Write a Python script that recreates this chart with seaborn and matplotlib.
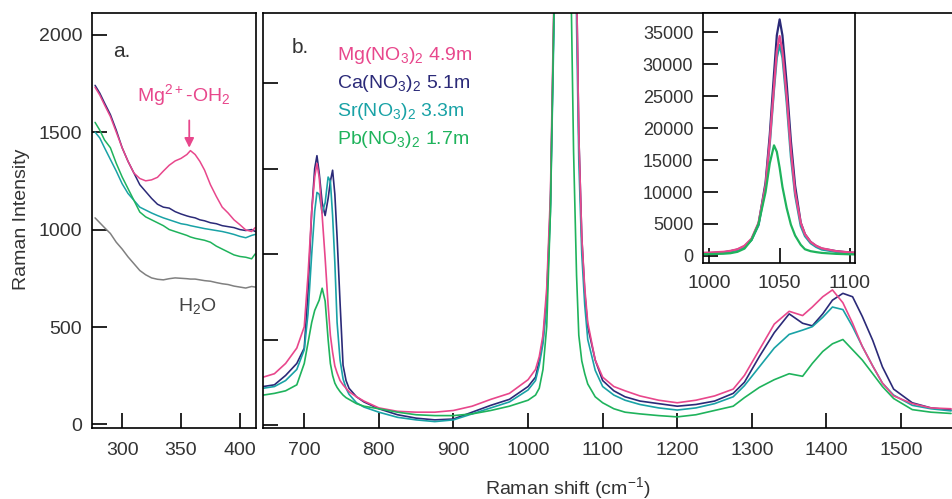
import matplotlib
matplotlib.use("Agg")
import matplotlib.pyplot as plt
import numpy as np
import pandas as pd
import seaborn as sns

# ---------------- data ----------------
# panel a: low-frequency region (Raman shift, cm-1)
shift_a = [277, 281, 285, 290, 295, 300, 305, 310, 315, 320, 325, 330, 335, 340, 345,
           350, 355, 358, 362, 366, 370, 375, 380, 385, 390, 395, 400, 405, 410, 413]
mg_a = [1730, 1690, 1640, 1580, 1500, 1420, 1350, 1290, 1262, 1250, 1255, 1268, 1300, 1330, 1352,
        1365, 1385, 1405, 1385, 1350, 1305, 1230, 1170, 1115, 1085, 1050, 1025, 998, 990, 1010]
ca_a = [1740, 1700, 1650, 1590, 1510, 1420, 1350, 1290, 1230, 1195, 1160, 1130, 1115, 1110, 1092,
        1080, 1070, 1065, 1060, 1050, 1045, 1035, 1030, 1020, 1015, 1010, 1000, 995, 1000, 990]
sr_a = [1500, 1470, 1420, 1360, 1300, 1235, 1185, 1150, 1115, 1100, 1085, 1072, 1060, 1050, 1040,
        1030, 1025, 1020, 1015, 1010, 1005, 1000, 995, 990, 983, 975, 965, 958, 970, 975]
pb_a = [1550, 1510, 1460, 1420, 1340, 1270, 1210, 1150, 1090, 1065, 1050, 1035, 1020, 1000, 990,
        980, 970, 962, 955, 950, 945, 935, 915, 900, 885, 870, 862, 858, 850, 875]
h2o_a = [1060, 1035, 1010, 980, 935, 900, 860, 825, 790, 768, 752, 745, 742, 748, 752,
         750, 748, 746, 746, 742, 738, 735, 728, 722, 718, 710, 705, 700, 708, 705]

# panel b: full spectrum
shift_b = [645, 660, 675, 690, 700, 705, 710, 714, 717, 720, 724, 728, 732, 735, 738, 741, 744,
           748, 752, 756, 760, 770, 780, 800, 825, 850, 875, 900, 925, 950, 975, 1000, 1010,
           1015, 1020, 1025, 1030, 1035, 1040, 1043, 1046, 1048, 1050, 1052, 1055, 1058, 1061,
           1065, 1068, 1072, 1076, 1080, 1090, 1100, 1115, 1130, 1150, 1175, 1200, 1225, 1250,
           1275, 1290, 1310, 1330, 1350, 1368, 1381, 1395, 1408, 1422, 1435, 1448, 1462, 1475,
           1490, 1515, 1540, 1567]
mg_b = [560, 600, 720, 900, 1150, 1750, 2500, 2900, 3060, 2900, 2450, 1950, 1400, 1050, 850, 690, 610,
        520, 470, 430, 390, 330, 280, 200, 160, 150, 150, 170, 220, 300, 370, 530, 650,
        800, 1050, 1600, 2700, 5200, 11000, 18000, 26500, 32000, 34400, 32000, 25000, 16500, 10000,
        5200, 3400, 2200, 1600, 1200, 760, 560, 450, 400, 340, 290, 260, 290, 340,
        420, 580, 880, 1180, 1330, 1280, 1380, 1500, 1580, 1430, 1190, 920, 690, 490,
        340, 250, 200, 190]
ca_b = [450, 470, 580, 720, 900, 1550, 2500, 3000, 3150, 2950, 2600, 2450, 2650, 2850, 2980, 2700, 2200,
        1430, 700, 520, 430, 330, 270, 190, 120, 80, 60, 70, 150, 230, 300, 450, 560,
        750, 1000, 1500, 2600, 5000, 11500, 19000, 28500, 34500, 37000, 34500, 27000, 18000, 11000,
        5200, 3400, 2200, 1550, 1150, 760, 520, 400, 330, 280, 250, 220, 240, 280,
        370, 500, 800, 1080, 1300, 1190, 1160, 1300, 1460, 1540, 1500, 1270, 990, 680,
        420, 260, 200, 175]
sr_b = [430, 450, 520, 650, 880, 1300, 2000, 2500, 2720, 2700, 2480, 2600, 2900, 2850, 2450, 1900, 1200,
        760, 540, 430, 360, 260, 210, 150, 90, 60, 40, 60, 130, 200, 270, 410, 520,
        700, 950, 1400, 2500, 4800, 10800, 17500, 26000, 31000, 33000, 31000, 24000, 15500, 9500,
        4700, 3100, 2000, 1400, 1000, 640, 450, 350, 290, 240, 200, 175, 200, 250,
        330, 460, 680, 900, 1060, 1110, 1150, 1260, 1380, 1350, 1150, 920, 690, 490,
        350, 230, 190, 165]
pb_b = [350, 370, 400, 470, 720, 960, 1200, 1340, 1400, 1460, 1600, 1450, 1000, 720, 580, 490, 440,
        390, 350, 320, 300, 250, 220, 190, 150, 120, 110, 110, 130, 170, 220, 290, 350,
        430, 650, 1150, 2500, 5000, 10000, 14500, 17300, 16300, 13800, 10800, 7500, 4900, 3200,
        1750, 1050, 750, 600, 480, 330, 260, 190, 150, 130, 110, 95, 120, 170,
        220, 320, 440, 530, 600, 570, 720, 860, 950, 1000, 880, 760, 600, 450,
        310, 180, 150, 135]

samples = ["Ca", "Sr", "Mg", "Pb"]
labels = {
    "Mg": r"Mg(NO$_3$)$_2$ 4.9m",
    "Ca": r"Ca(NO$_3$)$_2$ 5.1m",
    "Sr": r"Sr(NO$_3$)$_2$ 3.3m",
    "Pb": r"Pb(NO$_3$)$_2$ 1.7m",
}
palette = {"Mg": "#e8478c", "Ca": "#2b2a78", "Sr": "#19a2a6", "Pb": "#1fb35c", "H2O": "#808080"}

series_a = {"Mg": mg_a, "Ca": ca_a, "Sr": sr_a, "Pb": pb_a}
series_b = {"Mg": mg_b, "Ca": ca_b, "Sr": sr_b, "Pb": pb_b}

df_a = pd.concat([pd.DataFrame({"shift": shift_a, "intensity": v, "sample": k})
                  for k, v in series_a.items()], ignore_index=True)
df_w = pd.DataFrame({"shift": shift_a, "intensity": h2o_a, "sample": "H2O"})
df_b = pd.concat([pd.DataFrame({"shift": shift_b, "intensity": v, "sample": k})
                  for k, v in series_b.items()], ignore_index=True)

# ---------------- style ----------------
sns.set_theme(style="white")
plt.rcParams["font.family"] = ["Liberation Sans", "DejaVu Sans"]
plt.rcParams["mathtext.default"] = "regular"
TXT = "#333333"

fig = plt.figure(figsize=(9.53, 4.99), dpi=100)
W, H = 953.0, 499.0


def box(l, r, t, b):
    return [l / W, 1 - b / H, (r - l) / W, (b - t) / H]


ax_a = fig.add_axes(box(92, 256, 13, 428))
ax_b = fig.add_axes(box(263, 953, 13, 428))
ax_i = fig.add_axes(box(703, 855, 13, 263))


def style_axes(ax, xl_size=14, yl_size=14, xpad=10, ypad=7):
    for s in ax.spines.values():
        s.set_color("black")
        s.set_linewidth(1.2)
    ax.tick_params(direction="in", length=11, width=1.2, color="black",
                   labelcolor=TXT)
    ax.tick_params(axis="x", pad=xpad, labelsize=xl_size, bottom=True, top=False)
    ax.tick_params(axis="y", pad=ypad, labelsize=yl_size, left=True, right=False)
    ax.set_xlabel("")
    ax.set_ylabel("")


# ---- panel a ----
sns.lineplot(data=df_w, x="shift", y="intensity", color=palette["H2O"], lw=1.1,
             estimator=None, sort=False, ax=ax_a, legend=False)
sns.lineplot(data=df_a, x="shift", y="intensity", hue="sample", hue_order=samples,
             palette=palette, lw=1.1, estimator=None, sort=False, ax=ax_a, legend=False)
ax_a.set_xlim(274.4, 413.7)
ax_a.set_ylim(-18, 2111)
ax_a.set_xticks([300, 350, 400])
ax_a.set_yticks([0, 500, 1000, 1500, 2000])
style_axes(ax_a)
ax_a.text(0.128, 0.894, "a.", transform=ax_a.transAxes, fontsize=15, color=TXT,
          va="baseline", ha="left")
ax_a.annotate("", xy=(357, 1420), xytext=(357, 1560),
              arrowprops=dict(arrowstyle="-|>", color=palette["Mg"], lw=1.3,
                              mutation_scale=14, shrinkA=0, shrinkB=0))
ax_a.text(352, 1690, r"Mg$^{2+}$-OH$_2$", color=palette["Mg"], fontsize=14,
          ha="center", va="center")
ax_a.text(364, 610, r"H$_2$O", color="#444444", fontsize=14, ha="center", va="center")

# ---- panel b ----
sns.lineplot(data=df_b, x="shift", y="intensity", hue="sample", hue_order=samples,
             palette=palette, lw=1.2, estimator=None, sort=False, ax=ax_b, legend=False)
ax_b.set_xlim(644.7, 1569.6)
ax_b.set_ylim(-35, 4819)
ax_b.set_xticks(range(700, 1501, 100))
ax_b.set_yticks([0, 1000, 2000, 3000, 4000])
style_axes(ax_b)
ax_b.tick_params(axis="y", labelleft=False)
ax_b.spines["right"].set_visible(False)
ax_b.text(0.042, 0.9036, "b.", transform=ax_b.transAxes, fontsize=15, color=TXT,
          va="baseline", ha="left")
for i, s in enumerate(["Mg", "Ca", "Sr", "Pb"]):
    ax_b.text(0.1076, 0.8867 - i * 0.0672, labels[s], transform=ax_b.transAxes,
              color=palette[s], fontsize=14, va="baseline", ha="left")

# ---- inset ----
ax_i.set_facecolor("white")
sns.lineplot(data=df_b, x="shift", y="intensity", hue="sample", hue_order=samples,
             palette=palette, lw=1.6, estimator=None, sort=False, ax=ax_i, legend=False)
ax_i.set_xlim(995.5, 1103.6)
ax_i.set_ylim(-1100, 38000)
ax_i.set_xticks([1000, 1050, 1100])
ax_i.set_yticks(range(0, 35001, 5000))
style_axes(ax_i, xl_size=14, yl_size=13, xpad=9, ypad=7)

fig.text(22 / W, 1 - 219 / H, "Raman Intensity", rotation=90, fontsize=14,
         color=TXT, ha="center", va="center")
fig.text(568 / W, 1 - 488 / H, r"Raman shift (cm$^{-1}$)", fontsize=14,
         color=TXT, ha="center", va="center")

fig.savefig("out.png", dpi=100, facecolor="white")
